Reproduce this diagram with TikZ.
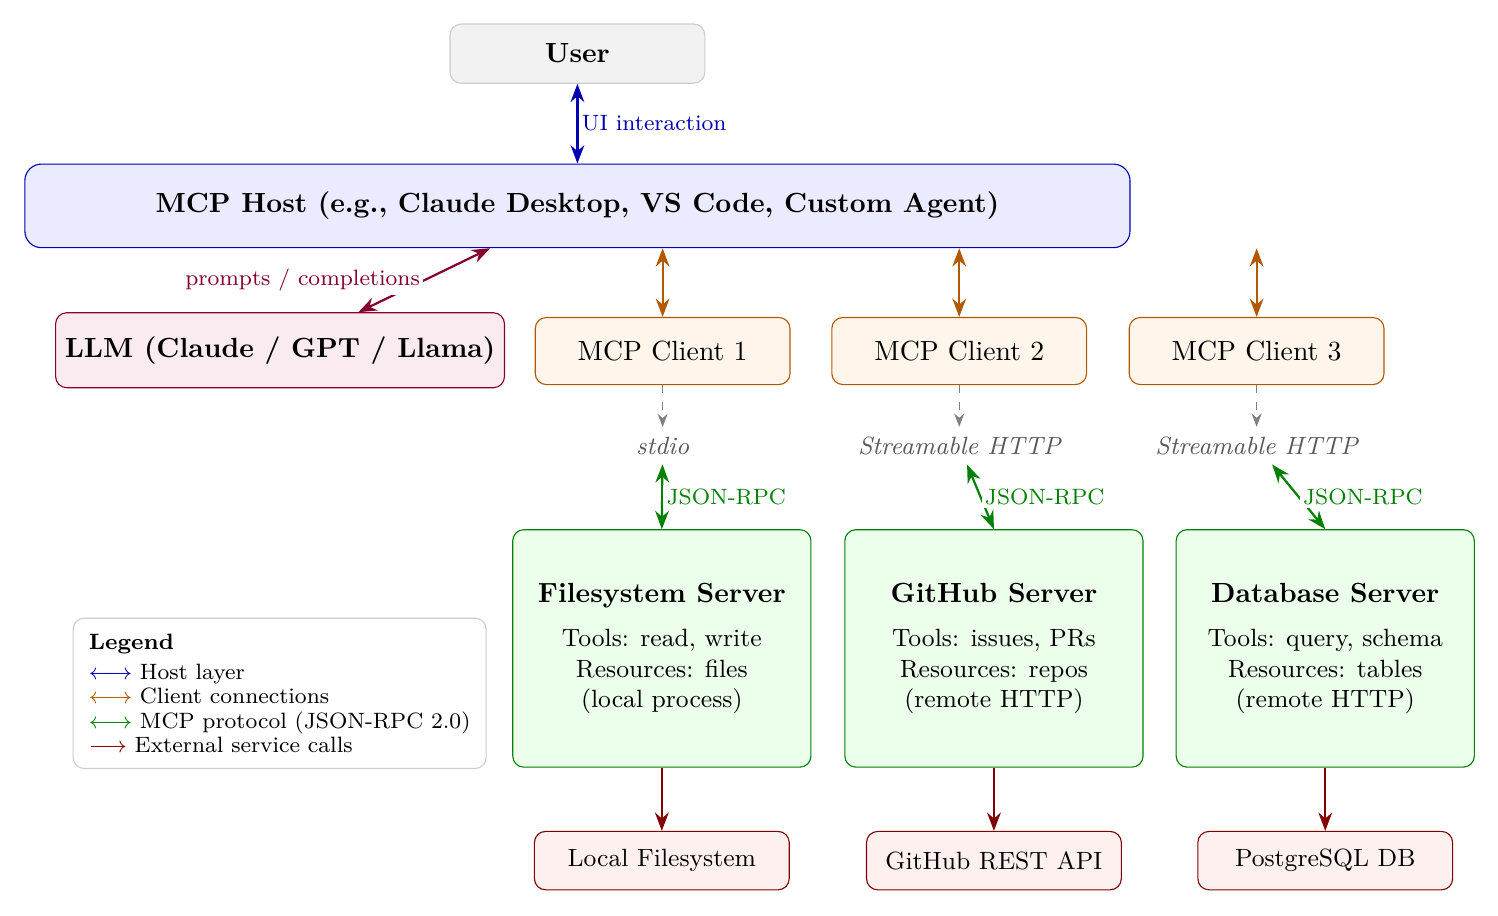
\documentclass[tikz,border=0pt]{standalone}
\usepackage{amsmath,amssymb}
\usetikzlibrary{arrows.meta,positioning}

\colorlet{hostc}{blue!70!black}
\colorlet{llmc}{purple!70!black}
\colorlet{clientc}{orange!70!black}
\colorlet{serverc}{green!50!black}
\colorlet{extc}{red!50!black}

\begin{document}
\begin{tikzpicture}[>=Stealth,
  box/.style={draw, rounded corners=4pt, align=center, inner sep=2pt},
  userbox/.style={box, draw=gray!40, fill=gray!10, minimum width=3.23cm, minimum height=0.75cm, font=\bfseries},
  hostbox/.style={box, draw=hostc, fill=blue!8, minimum width=14.01cm, minimum height=1.06cm, font=\bfseries, rounded corners=6pt},
  llmbox/.style={box, draw=llmc, fill=purple!8, minimum width=5.69cm, minimum height=0.95cm, font=\bfseries},
  clientbox/.style={box, draw=clientc, fill=orange!8, minimum width=3.23cm, minimum height=0.85cm},
  serverbox/.style={box, draw=serverc, fill=green!8, minimum width=3.78cm, minimum height=3.01cm, font=\small},
  extbox/.style={box, draw=extc, fill=red!6, minimum width=3.23cm, minimum height=0.74cm, font=\small},
  transport/.style={font=\small\itshape, text=black!65},
  link/.style={thick, <->},
  lbl/.style={font=\footnotesize, fill=white, inner sep=1.2pt},
  legendbox/.style={draw=gray!40, rounded corners=4pt, align=left, inner sep=2mm, font={\fontsize{8}{8.8}\selectfont}}
]
\useasboundingbox (0,0) rectangle (18.99,-11.61);

\node[userbox] (user) at (7.32,-0.68) {User};
\node[hostbox] (host) at (7.32,-2.61) {MCP Host (e.g., Claude Desktop, VS Code, Custom Agent)};
\node[llmbox] (llm) at (3.55,-4.44) {LLM (Claude / GPT / Llama)};

\draw[link, draw=hostc] (user) -- node[lbl, right, text=hostc] {UI interaction} (host);
\draw[link, draw=llmc] (llm) -- node[lbl, left, text=llmc] {prompts / completions} (host);

% clients and transports
\foreach \i/\x/\tr in {1/8.40/stdio, 2/12.16/Streamable HTTP, 3/15.93/Streamable HTTP} {
  \node[clientbox] (c\i) at (\x,-4.45) {MCP Client \i};
  \node[transport] (t\i) at (\x,-5.65) {\tr};
  \draw[link, draw=clientc] (c\i |- host.south) -- (c\i.north);
  \draw[->, dashed, gray] (c\i) -- (t\i);
}

% servers and external services
\foreach \i/\x/\name/\tools/\res/\kind/\ext in {1/8.39/Filesystem/{read, write}/files/local process/Local Filesystem,
    2/12.60/GitHub/{issues, PRs}/repos/remote HTTP/GitHub REST API,
    3/16.80/Database/{query, schema}/tables/remote HTTP/PostgreSQL DB} {
  \node[serverbox] (s\i) at (\x,-8.22) {{\normalsize\bfseries \name\ Server}\\[5pt] Tools: \tools\\ Resources: \res\\ (\kind)};
  \node[extbox] (e\i) at (\x,-10.91) {\ext};
  \draw[link, draw=serverc] (t\i) -- node[lbl, right, text=serverc] {JSON-RPC} (s\i.north);
  \draw[->, thick, extc] (s\i) -- (e\i);
}

\node[legendbox, anchor=north west] (legend) at (0.92,-7.83) {\textbf{Legend}\\[2pt]
  \textcolor{hostc}{$\longleftrightarrow$} Host layer\\
  \textcolor{clientc}{$\longleftrightarrow$} Client connections\\
  \textcolor{serverc}{$\longleftrightarrow$} MCP protocol (JSON-RPC 2.0)\\
  \textcolor{extc}{$\longrightarrow$} External service calls};
\end{tikzpicture}
\end{document}
